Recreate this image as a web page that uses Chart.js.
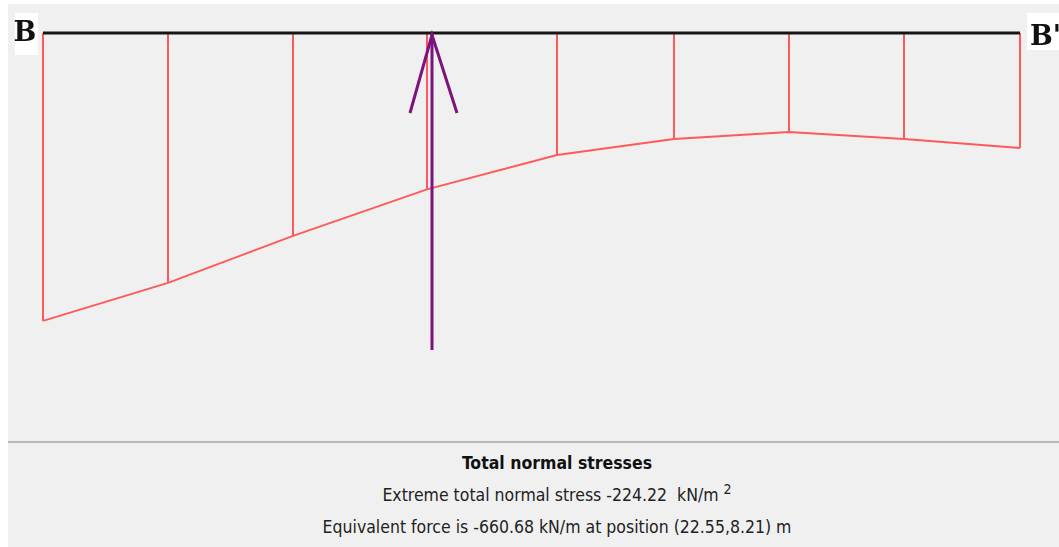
<!DOCTYPE html>
<html>
<head>
<meta charset="utf-8">
<script src="https://cdn.jsdelivr.net/npm/chart.js@4"></script>
<style>
  body { margin: 0; background: #fff; width: 1059px; height: 547px; overflow: hidden; }
  #wrap { position: absolute; left: 8px; top: 4px; width: 1051px; height: 543px; background: #f0f0f0; }
  #chart { position: absolute; left: 0; top: 0; }
  #sep { position: absolute; left: 0; top: 437px; width: 1051px; height: 2px; background: #b8b8b8; }
  #foot { position: absolute; left: 49px; top: 447px; width: 1000px; text-align: center;
          font-family: "DejaVu Sans Condensed", "DejaVu Sans", sans-serif; font-size: 17.5px; color: #222; }
  #foot div { height: 32px; line-height: 24px; }
  #foot .t { font-weight: bold; color: #111; }
  sup { font-size: 14px; line-height: 0; vertical-align: 7px; }
</style>
</head>
<body>
<div id="wrap">
  <canvas id="chart" width="1051" height="437"></canvas>
  <div id="sep"></div>
  <div id="foot">
    <div class="t">Total normal stresses</div>
    <div>Extreme total normal stress -224.22 &nbsp;kN/m <sup>2</sup></div>
    <div>Equivalent force is -660.68 kN/m at position (22.55,8.21) m</div>
  </div>
</div>
<script>
// section stations along B-B' (m) and total normal stress (kN/m2)
const stations = [0, 3.125, 6.25, 9.6, 12.85, 15.775, 18.65, 21.525, 24.425];
const stresses = [-224.22, -194.6, -158.0, -121.8, -95.0, -82.5, -77.1, -82.5, -89.5];
// equivalent force arrow: position and drawn length (stress units)
const forcePos = 9.725;
const forceLen = -246.8;
const endLabels = ["B", "B'"];

// vertical ordinates, broken with nulls
const ordinates = [];
stations.forEach((s, i) => {
  ordinates.push({x: s, y: 0}, {x: s, y: stresses[i]}, {x: s, y: null});
});
const profile = stations.map((s, i) => ({x: s, y: stresses[i]}));
const baseLine = [{x: stations[0], y: 0}, {x: stations[stations.length - 1], y: 0}];
const arrow = [{x: forcePos, y: forceLen}, {x: forcePos, y: 0}];

const extras = {
  id: 'extras',
  afterDatasetsDraw(chart) {
    const ctx = chart.ctx, xs = chart.scales.x, ys = chart.scales.y;
    // arrow head
    const tx = xs.getPixelForValue(forcePos), ty = ys.getPixelForValue(0) + 2;
    ctx.save();
    ctx.strokeStyle = '#7d137d';
    ctx.lineWidth = 3;
    ctx.beginPath();
    ctx.moveTo(tx - 22, ty + 78);
    ctx.lineTo(tx, ty);
    ctx.lineTo(tx + 25, ty + 78);
    ctx.stroke();
    // end labels
    const lx = xs.getPixelForValue(stations[0]);
    const rx = xs.getPixelForValue(stations[stations.length - 1]);
    const y0 = ys.getPixelForValue(0);
    ctx.fillStyle = '#fff';
    ctx.fillRect(lx - 28, y0 - 20, 23, 42);
    ctx.fillRect(rx + 7, y0 - 20, 40, 37);
    ctx.fillStyle = '#111';
    ctx.font = 'bold 27px "DejaVu Serif", serif';
    ctx.textBaseline = 'alphabetic';
    ctx.textAlign = 'center';
    ctx.fillText(endLabels[0], lx - 18, y0 + 8);
    ctx.textAlign = 'left';
    ctx.fillText(endLabels[1], rx + 10, y0 + 12);
    ctx.restore();
  }
};

new Chart(document.getElementById("chart"), {
  type: 'line',
  data: {
    datasets: [
      { data: arrow, borderColor: '#7d137d', borderWidth: 3, pointRadius: 0, clip: false },
      { data: baseLine, borderColor: '#161616', borderWidth: 3, pointRadius: 0, clip: false },
      { data: profile, borderColor: '#ff5a5a', borderWidth: 2, pointRadius: 0, clip: false },
      { data: ordinates, borderColor: '#ff5a5a', borderWidth: 2, pointRadius: 0, spanGaps: false, clip: false }
    ]
  },
  options: {
    responsive: false,
    animation: false,
    layout: { padding: { left: 35, right: 39, top: 29, bottom: 87 } },
    plugins: { legend: { display: false }, tooltip: { enabled: false } },
    scales: {
      x: { type: 'linear', display: false, min: 0, max: 24.425 },
      y: { type: 'linear', display: false, min: -250, max: 0 }
    }
  },
  plugins: [extras]
});
</script>
</body>
</html>
